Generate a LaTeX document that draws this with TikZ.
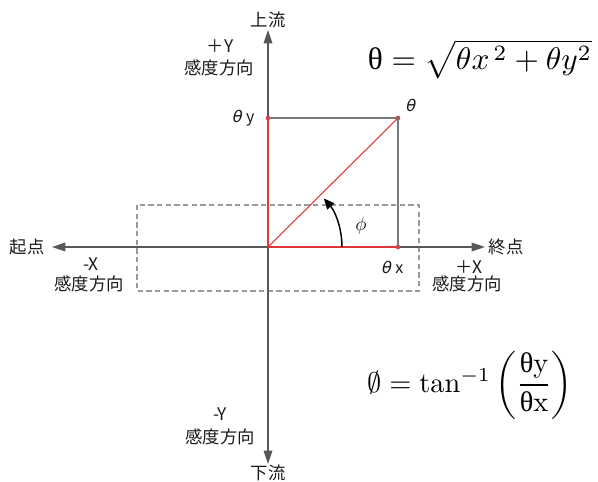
\documentclass[tikz,border=0pt]{standalone}
\usepackage{fontspec}
\usepackage{amsmath}
\usepackage{graphicx}
\newfontfamily\jp{Noto Sans CJK JP}
\newfontfamily\jpsl[FakeSlant=0.22]{DejaVu Sans}
\newfontfamily\grk{Liberation Serif}
\usetikzlibrary{arrows.meta}
\definecolor{axisgray}{HTML}{585858}
\definecolor{boxgray}{HTML}{7A7A7A}
\definecolor{dashgray}{HTML}{9A9A9A}
\definecolor{myred}{HTML}{E03838}
\tikzset{
  axis/.style={draw=axisgray, line width=0.9pt, -{Triangle[length=10pt,width=6.5pt]}},
  boxline/.style={draw=boxgray, line width=0.9pt},
  redline/.style={draw=myred, line width=0.8pt},
  dashbox/.style={draw=dashgray, line width=0.8pt, dash pattern=on 4pt off 2.5pt},
  lbl/.style={font=\jp\fontsize{13pt}{15pt}\selectfont, inner sep=0pt, text=black!90},
  glbl/.style={font=\jp\fontsize{12pt}{14pt}\selectfont, inner sep=0pt, text=black!90},
  reddot/.style={circle, fill=myred, inner sep=0pt, minimum size=3.5pt},
}
\newcommand{\slth}{{\jpsl θ}}
\begin{document}
\begin{tikzpicture}[x=0.75pt, y=-0.75pt]
\useasboundingbox (0,0) rectangle (598,481);
% key coordinates
\coordinate (O) at (268,247);
\coordinate (top) at (268,30);
\coordinate (bot) at (268,464);
\coordinate (left) at (52,247);
\coordinate (right) at (485,247);
\coordinate (arcstart) at (342,247);
% dashed box
\draw[dashbox] (137,205) rectangle (419,291);
% axes
\draw[axis] (O) -- (top);
\draw[axis] (O) -- (bot);
\draw[axis] (O) -- (left);
\draw[axis] (O) -- (right);
% square
\node[reddot] (ty) at (268,118) {};
\node[reddot] (tt) at (398,118) {};
\node[reddot] (tx) at (398,247) {};
\draw[boxline] (ty.center) -- (tt.center) -- (tx.center);
\draw[redline] (O) -- (ty.center);
\draw[redline] (O) -- (tx.center);
\draw[redline] (O) -- (tt.center);
% angle arc
\draw[black, line width=1.1pt, -{Triangle[length=8pt,width=7pt]}] (arcstart) arc[start angle=0, end angle=-41, radius=74];
\node[font=\fontsize{15pt}{17pt}\selectfont, inner sep=0pt] (phi) at (361,226) {$\phi$};
% labels
\node[glbl] (lty) at (243,118) {\slth\hspace{3.5pt}y};
\node[glbl] (ltt) at (410,105) {\slth};
\node[glbl] (ltx) at (392,267) {\slth\hspace{3.5pt}x};
\node[lbl] (up) at (268,20) {上流};
\node[lbl] (down) at (268,473) {下流};
\node[lbl] (start) at (27,247) {起点};
\node[lbl] (end) at (506,247) {終点};
\node[lbl] (py) at (220,46) {＋Y};
\node[lbl] (pyd) at (219,68) {感度方向};
\node[lbl] (my) at (220,414) {-Y};
\node[lbl] (myd) at (220,437) {感度方向};
\node[lbl] (mx) at (91,264) {-X};
\node[lbl] (mxd) at (89,284) {感度方向};
\node[lbl] (px) at (469,267) {＋X};
\node[lbl] (pxd) at (467,284) {感度方向};
% formulas
\node[inner sep=0pt] (f1) at (480,59) {\resizebox{168pt}{!}{$\mbox{\grk θ} = \sqrt{\theta x^{\,2}+\theta y^2}$}};
\node[inner sep=0pt] (f2) at (470,385) {\resizebox{154pt}{!}{$\emptyset = \tan^{-1}\left(\dfrac{\mbox{\grk θ}\mathrm{y}}{\mbox{\grk θ}\mathrm{x}}\right)$}};
\end{tikzpicture}
\end{document}
